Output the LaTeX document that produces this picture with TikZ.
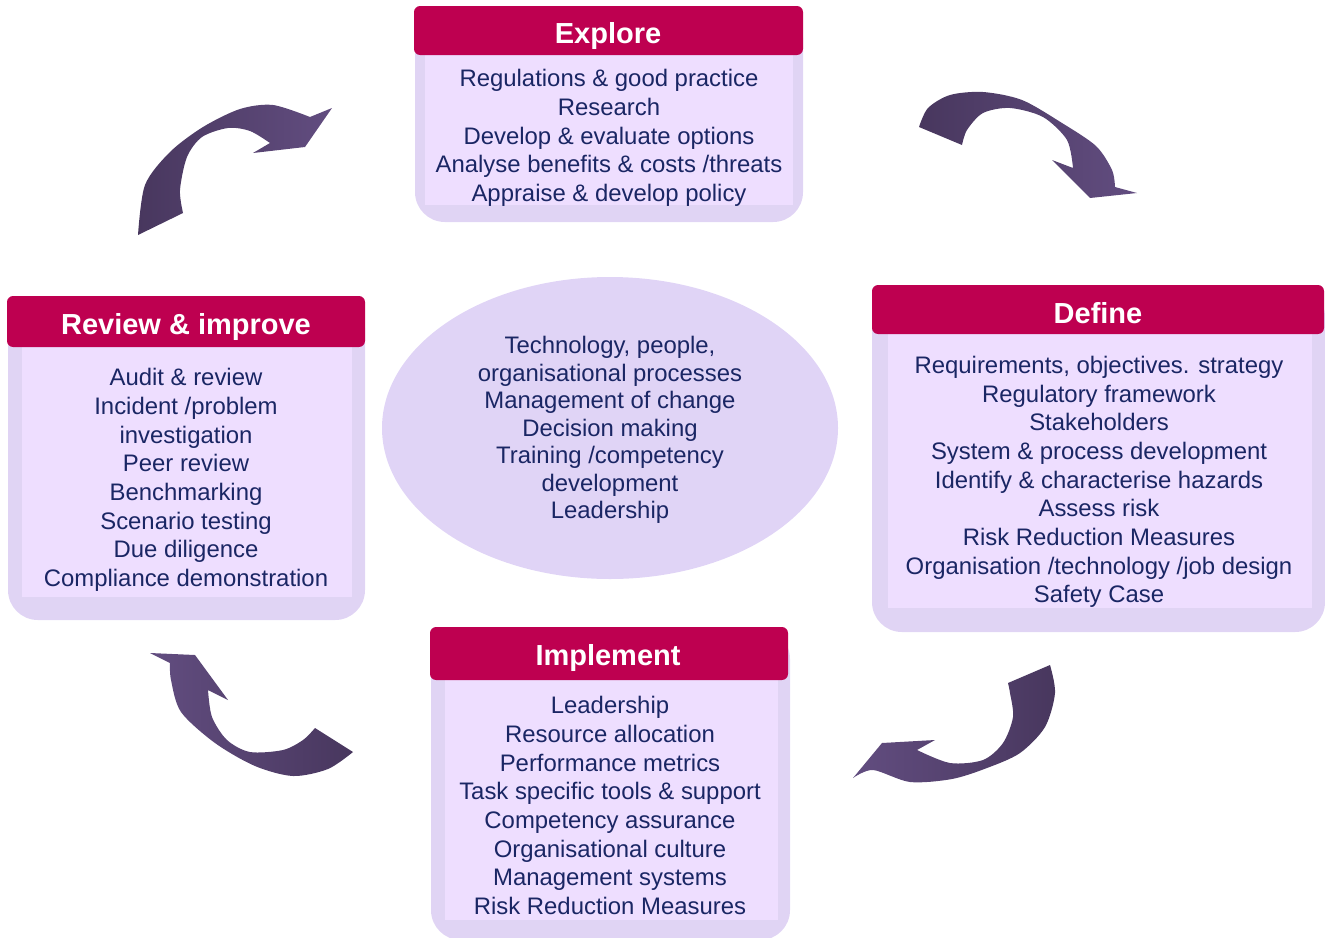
\documentclass[tikz,border=0pt]{standalone}
\usepackage{fontspec}
\setmainfont{Liberation Sans}
\definecolor{hdred}{RGB}{190,0,80}
\definecolor{lavout}{RGB}{224,212,244}
\definecolor{lavin}{RGB}{238,222,255}
\definecolor{ovalfill}{RGB}{224,212,246}
\definecolor{navy}{RGB}{26,38,100}
\definecolor{arrowlight}{RGB}{98,77,128}
\definecolor{arrowdark}{RGB}{72,55,94}
\begin{document}
\begin{tikzpicture}[x=0.02cm,y=-0.02cm,
    outerbox/.style={fill=lavout,rounded corners=17pt},
    innerbox/.style={fill=lavin},
    headbar/.style={fill=hdred,rounded corners=3.5pt},
    headtxt/.style={text=white,font=\fontsize{16.5}{20}\selectfont\bfseries,inner sep=0pt},
    bodytxt/.style={text=navy,font=\fontsize{13.6}{16.3}\selectfont,align=center,inner sep=0pt}]
  \useasboundingbox (0,0) rectangle (1325,937);
  % Explore
  \fill [outerbox] (415,8) rectangle (803,222);
  \fill [innerbox] (425,50) rectangle (793,205);
  \fill [headbar] (414,6) rectangle (803,55);
  \node [headtxt] (explore) at (608,36) {Explore};
  \node [bodytxt] (exploreList) at (609,138) {Regulations \& good practice\\Research\\Develop \& evaluate options\\Analyse benefits \& costs /threats\\Appraise \& develop policy};
  % Define
  \fill [outerbox] (872,287) rectangle (1325,632);
  \fill [innerbox] (888,330) rectangle (1312,608);
  \fill [headbar] (872,285) rectangle (1324,334);
  \node [headtxt] (define) at (1098,313) {Define};
  \node [bodytxt] (defineList) at (1099,482) {Requirements, objectives. strategy\\Regulatory framework\\Stakeholders\\System \& process development\\Identify \& characterise hazards\\Assess risk\\Risk Reduction Measures\\Organisation /technology /job design\\Safety Case};
  % Implement
  \fill [outerbox] (431,629) rectangle (790,940);
  \fill [innerbox] (445,675) rectangle (778,920);
  \fill [headbar] (430,627) rectangle (788,680);
  \node [headtxt] (implement) at (608,658) {Implement};
  \node [bodytxt] (implementList) at (610,805.5) {Leadership\\Resource allocation\\Performance metrics\\Task specific tools \& support\\Competency assurance\\Organisational culture\\Management systems\\Risk Reduction Measures};
  % Review & improve
  \fill [outerbox] (8,298) rectangle (365,620);
  \fill [innerbox] (22,342) rectangle (352,597);
  \fill [headbar] (7,296) rectangle (365,347);
  \node [headtxt] (review) at (186,327) {Review \& improve};
  \node [bodytxt] (reviewList) at (186,480) {Audit \& review\\Incident /problem\\investigation\\Peer review\\Benchmarking\\Scenario testing\\Due diligence\\Compliance demonstration};
  % centre
  \fill [ovalfill] (610,428) ellipse [x radius=228,y radius=151];
  \node [bodytxt,font=\fontsize{13.6}{15.7}\selectfont] (core) at (610,430) {Technology, people,\\organisational processes\\Management of change\\Decision making\\Training /competency\\development\\Leadership};
  % curved arrows
  \shade [left color=arrowdark,right color=arrowlight] (138,235) -- (183,213)
    -- plot [smooth] coordinates {(183,213) (180,190) (187,157) (202,137) (228,128) (250,131) (270,143)}
    -- (253,153) -- (305,147) -- (332,108) -- (310,117)
    -- plot [smooth] coordinates {(310,117) (273,105) (240,109) (203,127) (170,152) (145,185) (138,235)} -- cycle;
  \shade [left color=arrowdark,right color=arrowlight] (919,127) -- (962,145)
    -- plot [smooth] coordinates {(962,145) (967,130) (983,113) (1010,108) (1043,117) (1067,140) (1073,168)}
    -- (1052,160) -- (1090,198) -- (1137,193) -- (1115,187)
    -- plot [smooth] coordinates {(1115,187) (1112,170) (1096,146) (1062,123) (1022,100) (983,92) (950,95) (928,108) (919,127)} -- cycle;
  \shade [left color=arrowlight,right color=arrowdark] (1050,665) -- (1008,683)
    -- plot [smooth] coordinates {(1008,683) (1010,693) (1013,717) (1003,743) (983,760) (950,763) (917,750)}
    -- (935,740) -- (882,743) -- (853,778)
    -- plot [smooth] coordinates {(853,778) (873,770) (910,782) (952,779) (987,768) (1020,753) (1045,727) (1055,693) (1050,665)} -- cycle;
  \shade [left color=arrowlight,right color=arrowdark] (353,752) -- (315,728)
    -- plot [smooth] coordinates {(315,728) (303,740) (283,750) (250,752) (227,740) (212,717) (208,690)}
    -- (228,700) -- (195,655) -- (150,653) -- (170,663)
    -- plot [smooth] coordinates {(170,663) (171,680) (181,712) (215,743) (255,766) (293,776) (328,769) (353,752)} -- cycle;
\end{tikzpicture}
\end{document}
